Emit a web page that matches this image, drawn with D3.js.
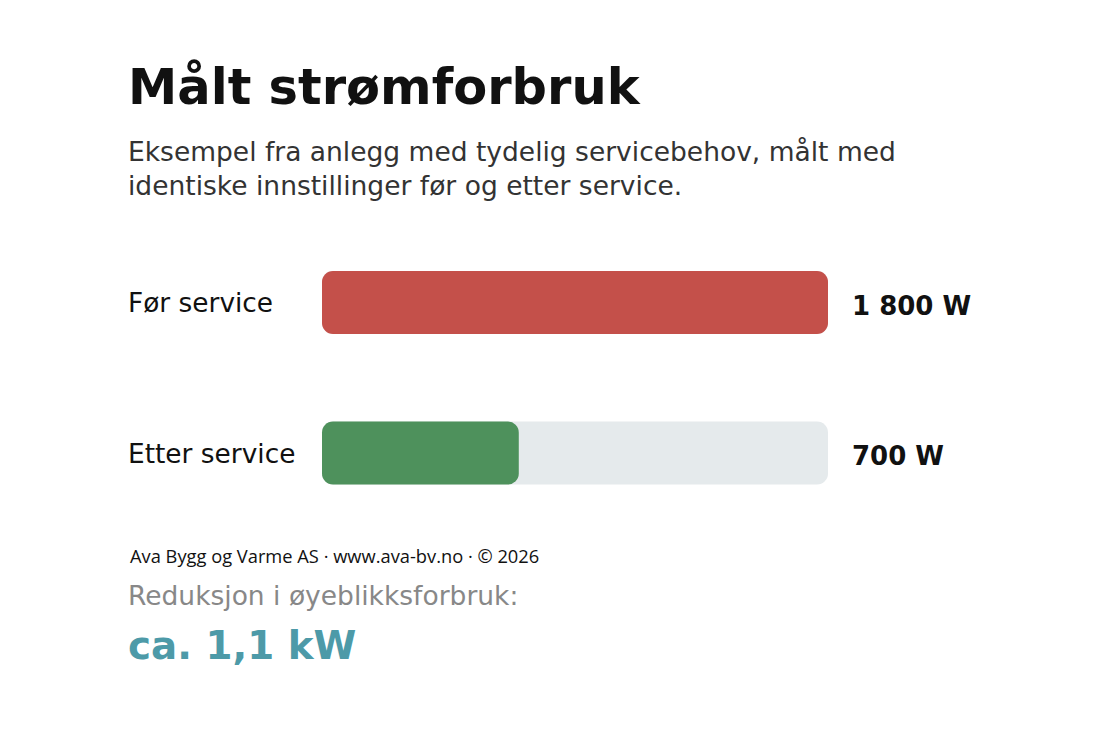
<!DOCTYPE html>
<html><head><meta charset="utf-8">
<script src="https://cdn.jsdelivr.net/npm/d3@7"></script>
<style>html,body{margin:0;padding:0;background:#fff;}svg{display:block;}</style>
</head><body>
<script>
const categories = ["Før service", "Etter service"];
const values = [1800, 700];
const valueLabels = ["1 800 W", "700 W"];
const barColors = ["#c4504a", "#4e915c"];
const maxValue = 1800;
const title = "Målt strømforbruk";
const subtitleLines = ["Eksempel fra anlegg med tydelig servicebehov, målt med", "identiske innstillinger før og etter service."];
const footer = "Ava Bygg og Varme AS · www.ava-bv.no · © 2026";
const reductionLabel = "Reduksjon i øyeblikksforbruk:";
const reductionValue = "ca. 1,1 kW";

const W = 1100, H = 733;
const svg = d3.select("body").append("svg").attr("width", W).attr("height", H);
const font = "DejaVu Sans, sans-serif";

svg.append("text").attr("x", 128).attr("y", 104).attr("font-family", font).attr("font-weight", "bold")
  .attr("font-size", 49.5).attr("fill", "#111").text(title);
subtitleLines.forEach((t, i) => {
  svg.append("text").attr("x", 128).attr("y", 161 + i * 34).attr("font-family", font)
    .attr("font-size", 26.5).attr("fill", "#333").text(t);
});

const x = d3.scaleLinear().domain([0, maxValue]).range([322, 828]);
const y = d3.scaleBand().domain(categories).range([227.25, 528.25]).padding(0);
const bh = 63;
const cy = d => y(d) + y.bandwidth() / 2;
const rows = svg.selectAll("g.row").data(categories).join("g").attr("class", "row");
rows.append("rect").attr("x", x(0)).attr("y", d => cy(d) - bh/2)
  .attr("width", x(maxValue) - x(0)).attr("height", bh).attr("rx", 11).attr("fill", "#e5eaec");
rows.append("rect").attr("x", x(0)).attr("y", d => cy(d) - bh/2)
  .attr("width", (d, i) => x(values[i]) - x(0)).attr("height", bh).attr("rx", 11)
  .attr("fill", (d, i) => barColors[i]);
rows.append("text").attr("x", 128).attr("y", d => cy(d) + 9.5)
  .attr("font-family", font).attr("font-size", 26.4).attr("fill", "#111").text(d => d);
rows.append("text").attr("x", 852).attr("y", d => cy(d) + 12)
  .attr("font-family", font).attr("font-weight", "bold").attr("font-size", 26).attr("fill", "#111")
  .text((d, i) => valueLabels[i]);

svg.append("text").attr("x", 130).attr("y", 563).attr("font-family", "Open Sans, sans-serif")
  .attr("font-size", 18.3).attr("fill", "#111").text(footer);
svg.append("text").attr("x", 128).attr("y", 605).attr("font-family", font)
  .attr("font-size", 26.5).attr("fill", "#888").text(reductionLabel);
svg.append("text").attr("x", 128).attr("y", 659).attr("font-family", font).attr("font-weight", "bold")
  .attr("font-size", 38.8).attr("fill", "#4d9aa8").text(reductionValue);
</script>
</body></html>
